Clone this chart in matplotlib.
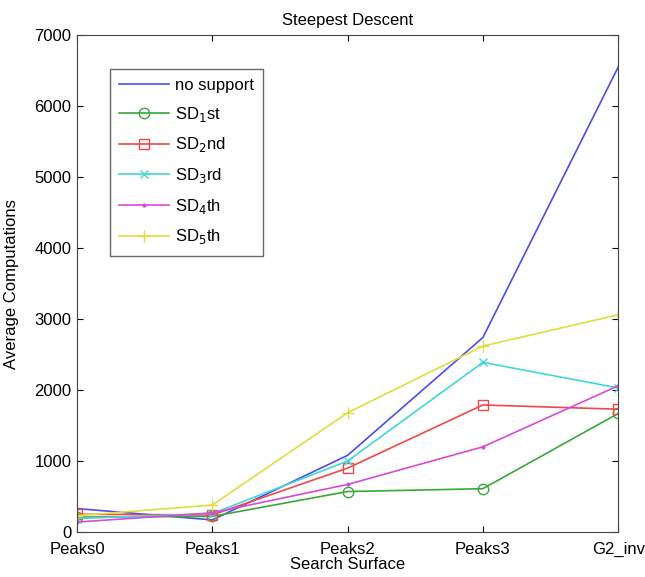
import matplotlib.pyplot as plt
import numpy as np

plt.rcParams['font.family'] = ['Liberation Sans', 'DejaVu Sans']

surfaces = ['Peaks0', 'Peaks1', 'Peaks2', 'Peaks3', 'G2_inv']
no_support = [330, 170, 1080, 2740, 6550]
sd1 = [210, 220, 570, 610, 1670]
sd2 = [250, 240, 900, 1790, 1730]
sd3 = [190, 260, 1000, 2390, 2030]
sd4 = [140, 270, 670, 1200, 2060]
sd5 = [230, 380, 1680, 2620, 3060]

x = np.arange(len(surfaces))

fig = plt.figure(figsize=(6.45, 5.77), dpi=100)
ax = fig.add_axes([0.1194, 0.078, 0.839, 0.861])

ax.plot(x, no_support, color='#4c4cf0', lw=1.2, label='no support')
ax.plot(x, sd1, color='#3aa83a', lw=1.2, marker='o', ms=7.5, mfc='none', label='SD$_1$st')
ax.plot(x, sd2, color='#f04848', lw=1.2, marker='s', ms=6.5, mfc='none', label='SD$_2$nd')
ax.plot(x, sd3, color='#40d8d8', lw=1.2, marker='x', ms=6, label='SD$_3$rd')
ax.plot(x, sd4, color='#d84ad8', lw=1.2, marker='.', ms=4, label='SD$_4$th')
ax.plot(x, sd5, color='#dede40', lw=1.2, marker='+', ms=9, label='SD$_5$th')

ax.set_xlim(0, 4)
ax.set_ylim(0, 7000)
ax.set_xticks(x)
ax.set_xticklabels(surfaces)
ax.set_yticks(np.arange(0, 7001, 1000))
ax.tick_params(direction='in', top=True, right=True, labelsize=12, length=4)
ax.tick_params(axis='x', pad=7)
ax.tick_params(axis='y', pad=4)
for s in ax.spines.values():
    s.set_color('#444444')
ax.set_xlabel('Search Surface', fontsize=12)
ax.xaxis.set_label_coords(0.5, -0.051)
ax.set_ylabel('Average Computations', fontsize=12)
ax.yaxis.set_label_coords(-0.107, 0.5)
ax.set_title('Steepest Descent', fontsize=12, pad=7)

leg = ax.legend(loc='upper left', bbox_to_anchor=(0.061, 0.932), borderaxespad=0,
                fontsize=12, fancybox=False, edgecolor='#444444', handlelength=3.0,
                handletextpad=0.35, labelspacing=0.7, borderpad=0.55)
leg.get_frame().set_linewidth(1.0)

fig.savefig('out.png', dpi=100)
